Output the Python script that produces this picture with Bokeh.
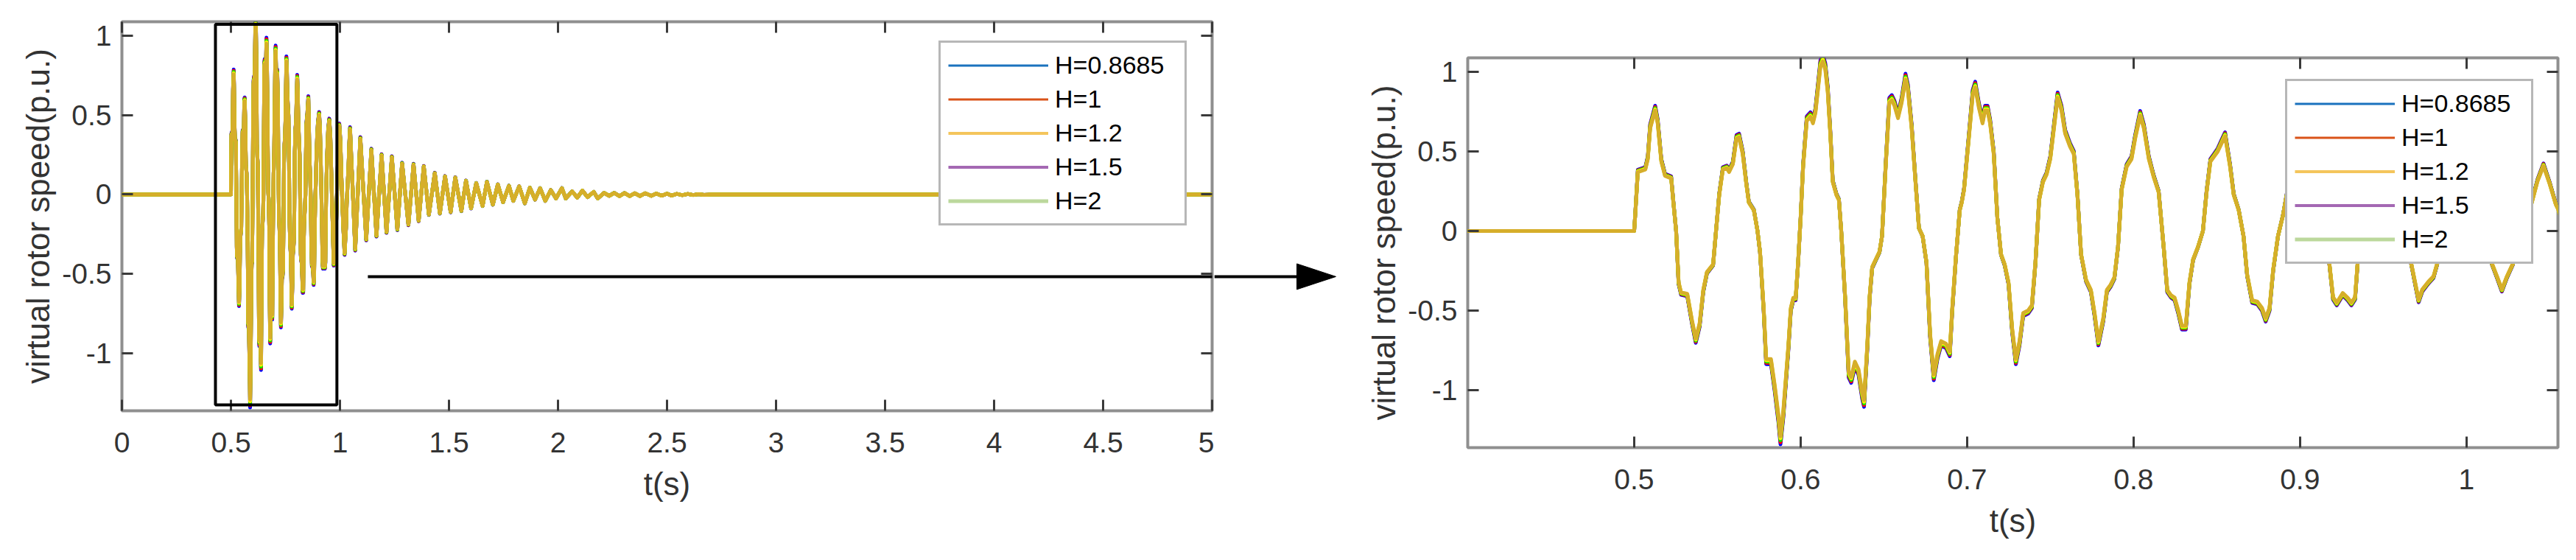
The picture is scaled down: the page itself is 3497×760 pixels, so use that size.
from bokeh.plotting import figure
from bokeh.models import (Range1d, FixedTicker, LinearAxis, CustomJSTickFormatter,
                          Legend, LegendItem, BoxAnnotation, Arrow, Spacer)
from bokeh.layouts import row, column
from bokeh.embed import file_html
from bokeh.resources import INLINE

# ---------------- data ----------------
t_s = [
    0.0, 0.5, 0.5007, 0.5022, 0.5067, 0.5082, 0.5096, 0.5126, 0.5141, 0.5163,
    0.5185, 0.5222, 0.5237, 0.5252, 0.5267, 0.5282, 0.5319, 0.5348, 0.5370, 0.5393,
    0.5415, 0.5437, 0.5474, 0.5489, 0.5511, 0.5533, 0.5556, 0.5570, 0.5593, 0.5615,
    0.5630, 0.5652, 0.5674, 0.5689, 0.5719, 0.5741, 0.5756, 0.5778, 0.5793, 0.5822,
    0.5844, 0.5867, 0.5879, 0.5896, 0.5926, 0.5941, 0.5956, 0.5970, 0.5985, 0.6000,
    0.6015, 0.6037, 0.6059, 0.6074, 0.6089, 0.6104, 0.6119, 0.6133, 0.6148, 0.6163,
    0.6178, 0.6193, 0.6215, 0.6230, 0.6244, 0.6267, 0.6289, 0.6304, 0.6326, 0.6348,
    0.6370, 0.6381, 0.6400, 0.6415, 0.6430, 0.6452, 0.6474, 0.6489, 0.6511, 0.6533,
    0.6548, 0.6563, 0.6585, 0.6607, 0.6630, 0.6644, 0.6667, 0.6689, 0.6711, 0.6733,
    0.6756, 0.6778, 0.6800, 0.6822, 0.6844, 0.6874, 0.6896, 0.6911, 0.6933, 0.6956,
    0.6968, 0.6982, 0.7012, 0.7034, 0.7049, 0.7071, 0.7093, 0.7108, 0.7123, 0.7138,
    0.7160, 0.7182, 0.7204, 0.7226, 0.7249, 0.7271, 0.7293, 0.7315, 0.7337, 0.7367,
    0.7389, 0.7411, 0.7433, 0.7456, 0.7478, 0.7500, 0.7522, 0.7544, 0.7567, 0.7589,
    0.7618, 0.7641, 0.7663, 0.7685, 0.7715, 0.7744, 0.7766, 0.7789, 0.7818, 0.7840,
    0.7862, 0.7885, 0.7907, 0.7929, 0.7959, 0.7988, 0.8010, 0.8040, 0.8062, 0.8092,
    0.8121, 0.8151, 0.8181, 0.8203, 0.8225, 0.8247, 0.8269, 0.8291, 0.8314, 0.8336,
    0.8358, 0.8388, 0.8417, 0.8439, 0.8462, 0.8484, 0.8506, 0.8528, 0.8550, 0.8580,
    0.8602, 0.8632, 0.8661, 0.8683, 0.8713, 0.8743, 0.8772, 0.8794, 0.8817, 0.8839,
    0.8868, 0.8898, 0.8925, 0.8955, 0.8990, 0.9045, 0.9085, 0.9120, 0.9150, 0.9177,
    0.9199, 0.9221, 0.9257, 0.9287, 0.9309, 0.9331, 0.9346, 0.9370, 0.9410, 0.9460,
    0.9510, 0.9560, 0.9600, 0.9640, 0.9669, 0.9691, 0.9713, 0.9735, 0.9772, 0.9802,
    0.9824, 0.9850, 0.9890, 0.9930, 0.9970, 1.0020, 1.0070, 1.0120, 1.0154, 1.0184,
    1.0213, 1.0243, 1.0279, 1.0310, 1.0350, 1.0390, 1.0427, 1.0463, 1.0500, 1.0537,
    1.0552, 1.0700, 1.0935, 1.1205, 1.1440, 1.1675, 1.1910, 1.2135, 1.2380, 1.2633,
    1.2850, 1.3141, 1.3375, 1.3610, 1.3845, 1.4079, 1.4350, 1.4583, 1.4820, 1.5076,
    1.5290, 1.5569, 1.5780, 1.6014, 1.6250, 1.6542, 1.6740, 1.7012, 1.7240, 1.7481,
    1.7750, 1.7950, 1.8220, 1.8478, 1.8710, 1.8948, 1.9180, 1.9417, 1.9670, 1.9910,
    2.0180, 2.0355, 2.0650, 2.0883, 2.1120, 2.1353, 2.1640, 2.1822, 2.2110, 2.2350,
    2.2580, 2.2820, 2.3050, 2.3290, 2.3520, 2.3760, 2.4000, 2.4280, 2.4500, 2.4750,
    2.5000, 2.5210, 2.5450, 2.5700, 2.5950, 2.6200, 2.6450, 2.6700, 2.7000, 5.0000,
]
speed_pu = [
    0.0, 0.0, 0.113, 0.370, 0.386, 0.451, 0.644, 0.757, 0.676, 0.435,
    0.346, 0.330, 0.161, 0.000, -0.322, -0.386, -0.395, -0.564, -0.676, -0.580,
    -0.370, -0.258, -0.209, -0.032, 0.225, 0.386, 0.395, 0.370, 0.419, 0.580,
    0.588, 0.483, 0.290, 0.177, 0.129, 0.000, -0.129, -0.483, -0.805, -0.805,
    -0.966, -1.159, -1.290, -1.127, -0.725, -0.483, -0.419, -0.419, -0.193, 0.081,
    0.403, 0.692, 0.717, 0.676, 0.741, 0.886, 1.031, 1.065, 1.014, 0.870,
    0.612, 0.306, 0.225, 0.193, 0.000, -0.403, -0.886, -0.918, -0.821, -0.870,
    -1.014, -1.063, -0.725, -0.403, -0.225, -0.177, -0.129, -0.032, 0.403, 0.805,
    0.821, 0.789, 0.709, 0.805, 0.950, 0.886, 0.644, 0.322, 0.016, -0.032,
    -0.193, -0.644, -0.902, -0.773, -0.692, -0.709, -0.757, -0.483, -0.161, 0.129,
    0.177, 0.258, 0.596, 0.853, 0.902, 0.773, 0.676, 0.757, 0.757, 0.676,
    0.483, 0.081, -0.145, -0.209, -0.322, -0.612, -0.805, -0.692, -0.515, -0.499,
    -0.467, -0.193, 0.193, 0.306, 0.354, 0.451, 0.644, 0.837, 0.757, 0.612,
    0.531, 0.483, 0.225, -0.145, -0.306, -0.370, -0.515, -0.692, -0.548, -0.370,
    -0.338, -0.290, -0.097, 0.258, 0.403, 0.451, 0.580, 0.725, 0.644, 0.451,
    0.338, 0.242, -0.097, -0.370, -0.403, -0.419, -0.499, -0.596, -0.596, -0.322,
    -0.177, -0.097, 0.000, 0.242, 0.435, 0.467, 0.499, 0.548, 0.596, 0.403,
    0.225, 0.129, -0.032, -0.274, -0.435, -0.443, -0.483, -0.548, -0.483, -0.242,
    -0.032, 0.097, 0.250, 0.360, 0.440, 0.500, 0.400, 0.200, 0.000, -0.205,
    -0.415, -0.450, -0.390, -0.420, -0.450, -0.415, -0.205, 0.030, 0.240, 0.400,
    0.460, 0.360, 0.150, -0.060, -0.205, -0.318, -0.431, -0.366, -0.318, -0.285,
    -0.205, -0.060, 0.140, 0.330, 0.430, 0.330, 0.100, -0.090, -0.205, -0.285,
    -0.366, -0.285, -0.205, -0.060, 0.060, 0.166, 0.311, 0.408, 0.295, 0.166,
    0.134, -0.340, 0.348, -0.278, 0.278, -0.255, 0.244, -0.232, 0.232, -0.216,
    0.193, -0.186, 0.186, -0.162, 0.173, -0.124, 0.132, -0.116, 0.112, -0.108,
    0.105, -0.101, 0.085, -0.085, 0.070, -0.070, 0.078, -0.062, 0.062, -0.047,
    0.054, -0.039, 0.050, -0.054, 0.042, -0.031, 0.039, -0.039, 0.027, -0.024,
    0.039, -0.024, 0.019, -0.019, 0.024, -0.016, 0.016, -0.024, 0.010, -0.008,
    0.010, -0.010, 0.009, -0.010, 0.008, -0.009, 0.008, -0.008, 0.006, -0.007,
    0.005, -0.006, 0.004, -0.004, 0.003, -0.003, 0.002, -0.002, 0.000, 0.000,
]
assert len(t_s) == len(speed_pu)

series_labels = ["H=0.8685", "H=1", "H=1.2", "H=1.5", "H=2"]
# relative swing of each drawn curve vs. the top (gold) curve, read from the coloured tips
amp_ratio = [1.04, 1.03, 1.02, 1.01, 1.00]
curve_colors = ["#0000FF", "#FF0000", "#00EE00", "#FFEE00", "#D6AE2A"]
legend_colors = ["#1A72BE", "#D95319", "#F4C55C", "#A468B3", "#BCD89C"]
legend_widths = [3, 3, 4, 4, 5]

left_xticks = [0, 0.5, 1, 1.5, 2, 2.5, 3, 3.5, 4, 4.5, 5]
right_xticks = [0.5, 0.6, 0.7, 0.8, 0.9, 1]
yticks = [-1, -0.5, 0, 0.5, 1]
Y_RANGE = (-1.362, 1.088)

FONT = "Liberation Sans"
TXT = "#333333"
TOP_B, BOT_B = 29, 191       # borders shared by the left panel and the gap panel
LEFT_B, FRAME_W, RIGHT_B = 165, 1480, 3


def style_axis(ax, ticks, show, label=None, standoff=0, label_standoff=0):
    ax.ticker = FixedTicker(ticks=ticks)
    ax.formatter = CustomJSTickFormatter(code="return String(tick);" if show else "return '';")
    ax.major_tick_in = 15
    ax.major_tick_out = 0
    ax.major_tick_line_color = "#3a3a3a"
    ax.major_tick_line_width = 3
    ax.minor_tick_line_color = None
    ax.axis_line_color = None
    ax.major_label_text_font = FONT
    ax.major_label_text_font_size = "39px" if show else "0px"
    ax.major_label_text_color = TXT
    ax.major_label_standoff = standoff
    if label:
        ax.axis_label = label
        ax.axis_label_text_font = FONT
        ax.axis_label_text_font_size = "44px"
        ax.axis_label_text_font_style = "normal"
        ax.axis_label_text_color = TXT
        ax.axis_label_standoff = label_standoff


def make_fig(xr, xticks, fh, mbl, mbr, mbt, mbb, legend_loc):
    p = figure(x_range=Range1d(*xr), y_range=Range1d(*Y_RANGE),
               frame_width=FRAME_W, frame_height=fh,
               min_border_left=mbl, min_border_right=mbr,
               min_border_top=mbt, min_border_bottom=mbb,
               output_backend="svg", toolbar_location=None,
               background_fill_color="white", border_fill_color="white")
    p.grid.visible = False
    p.outline_line_color = "#8f8f8f"
    p.outline_line_width = 4

    style_axis(p.xaxis[0], xticks, True, "t(s)", 29, 15)
    style_axis(p.yaxis[0], yticks, True, "virtual rotor speed(p.u.)", 14, 5)
    top = LinearAxis()
    style_axis(top, xticks, False)
    p.add_layout(top, "above")
    right = LinearAxis()
    style_axis(right, yticks, False)
    p.add_layout(right, "right")

    for ratio, col in zip(amp_ratio, curve_colors):
        p.line(t_s, [v * ratio for v in speed_pu], line_color=col, line_width=5,
               line_join="round")

    items = []
    for lab, col, lw in zip(series_labels, legend_colors, legend_widths):
        # off-screen proxy line used only for the legend swatch
        r = p.line([-100, -99], [-100, -100], line_color=col, line_width=lw)
        items.append(LegendItem(label=lab, renderers=[r]))
    leg = Legend(items=items, location=legend_loc,
                 label_text_font=FONT, label_text_font_size="34px",
                 label_text_color="black",
                 glyph_width=136, glyph_height=41, label_height=41, label_width=166,
                 spacing=5, padding=10, margin=0, label_standoff=9,
                 border_line_color="#707070", border_line_width=3,
                 background_fill_color="white", background_fill_alpha=1)
    p.add_layout(leg)
    return p


left = make_fig((0, 5), left_xticks, 528, LEFT_B, RIGHT_B, TOP_B, BOT_B, (1109, 251))
right = make_fig((0.4, 1.055), right_xticks, 529, 152, 12, TOP_B, 141, (1110, 249))

# zoom window marker on the left panel
zoom_box = dict(left=0.429, right=0.986, bottom=-1.325, top=1.072)
left.add_layout(BoxAnnotation(**zoom_box, fill_color=None, fill_alpha=0,
                              line_color="black", line_alpha=1, line_width=4))
# arrow: body inside the left panel ...
arrow_y = -0.517
left.add_layout(Arrow(end=None, x_start=1.128, y_start=arrow_y, x_end=5.2, y_end=arrow_y,
                      line_color="black", line_width=4))

# ... continued in a narrow gap panel (x in pixels, y in the left panel's data units)
GAP_W = 1840 - (LEFT_B + FRAME_W + RIGHT_B)
gap = figure(frame_width=GAP_W, frame_height=528,
             x_range=Range1d(0, GAP_W), y_range=Range1d(*Y_RANGE),
             min_border_left=0, min_border_right=0,
             min_border_top=TOP_B, min_border_bottom=BOT_B,
             x_axis_location=None, y_axis_location=None,
             output_backend="svg", toolbar_location=None,
             background_fill_color="white", border_fill_color="white")
gap.grid.visible = False
gap.outline_line_color = None
head_base, head_tip, head_half = 112, 165, 0.081
gap.segment(x0=[0], y0=[arrow_y], x1=[head_base + 2], y1=[arrow_y],
            line_color="black", line_width=4)
gap.patch(x=[head_base, head_tip, head_base],
          y=[arrow_y + head_half, arrow_y, arrow_y - head_half],
          fill_color="black", line_color="black", line_width=1)

layout = row(left, gap, column(Spacer(height=49, width=10), right))
open("out.html", "w").write(file_html(layout, INLINE))
